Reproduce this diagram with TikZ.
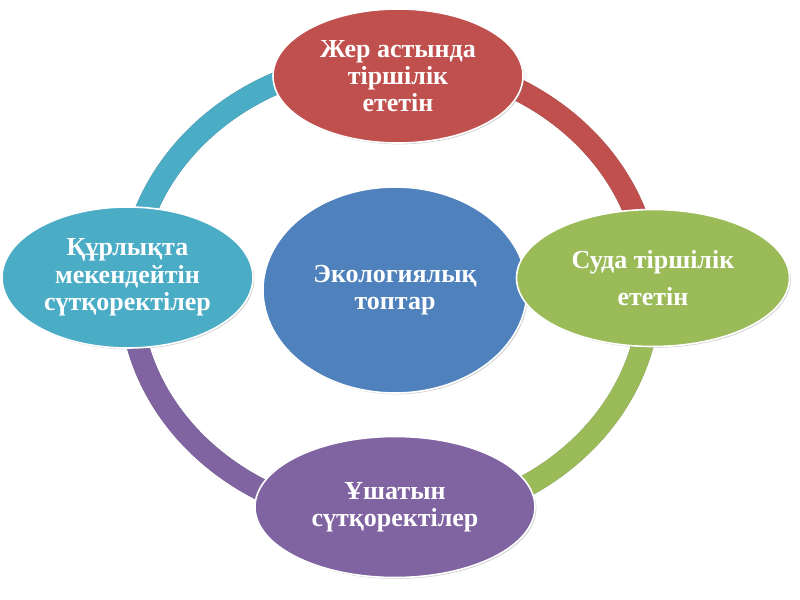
\documentclass[tikz,border=0pt]{standalone}
\usepackage{fontspec}
\setmainfont{Liberation Serif}
\usetikzlibrary{shapes.geometric,shadows}
\definecolor{cRed}{HTML}{C0504D}
\definecolor{cTeal}{HTML}{4BACC6}
\definecolor{cGreen}{HTML}{9BBB59}
\definecolor{cPurple}{HTML}{8064A2}
\definecolor{cBlue}{HTML}{4F81BD}
\begin{document}
\begin{tikzpicture}[x=0.75pt,y=-0.75pt,
  bubble/.style={ellipse, draw=white, line width=1.2pt, inner sep=0pt, text=white,
    font=\bfseries\fontsize{19.5}{20.5}\selectfont, align=center,
    drop shadow={shadow xshift=1pt, shadow yshift=-1pt, opacity=0.35}},
  ringseg/.style={line width=16.5pt, line cap=butt},
  ringshadow/.style={line width=16.5pt, line cap=butt, black, opacity=0.55, shift={(1.3,1.3)}},
  rad/.style={x radius=260, y radius=230}]
\fill[white] (0,0) rectangle (800,600);
\useasboundingbox (0,0) rectangle (800,600);
% ring points
\coordinate (rT) at (390,60);
\coordinate (rL) at (130,290);
\coordinate (rR) at (650,290);
\coordinate (rB) at (390,520);
% ring shadows
\draw[ringshadow] (rT) arc[start angle=270, end angle=180, rad];
\draw[ringshadow] (rT) arc[start angle=270, end angle=360, rad];
\draw[ringshadow] (rR) arc[start angle=0, end angle=90, rad];
\draw[ringshadow] (rB) arc[start angle=90, end angle=180, rad];
% ring segments
\draw[ringseg, cTeal] (rT) arc[start angle=270, end angle=180, rad];
\draw[ringseg, cRed] (rT) arc[start angle=270, end angle=360, rad];
\draw[ringseg, cGreen] (rR) arc[start angle=0, end angle=90, rad];
\draw[ringseg, cPurple] (rB) arc[start angle=90, end angle=180, rad];
% nodes
\node[bubble, fill=cBlue, minimum width=264*0.75pt, minimum height=206*0.75pt] (center) at (395,290) {Экологиялық\\топтар};
\node[bubble, fill=cRed, minimum width=250*0.75pt, minimum height=134*0.75pt] (top) at (398,76) {Жер астында\\тіршілік\\ететін};
\node[bubble, fill=cTeal, minimum width=251*0.75pt, minimum height=141*0.75pt] (left) at (127.5,277.5) {Құрлықта\\мекендейтін\\сүтқоректілер};
\node[bubble, fill=cGreen, minimum width=273*0.75pt, minimum height=137*0.75pt] (right) at (653,278) {Суда тіршілік\\[7pt]ететін};
\node[bubble, fill=cPurple, minimum width=280*0.75pt, minimum height=141*0.75pt] (bottom) at (395,507) {Ұшатын\\сүтқоректілер};
\end{tikzpicture}
\end{document}
